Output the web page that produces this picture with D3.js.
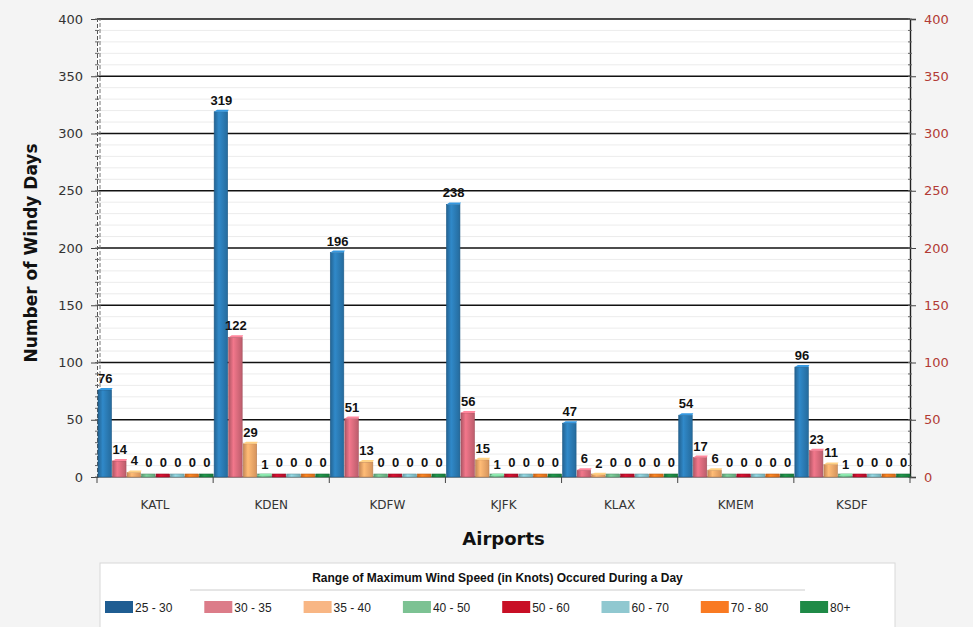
<!DOCTYPE html>
<html>
<head>
<meta charset="utf-8">
<script src="https://cdn.jsdelivr.net/npm/d3@7"></script>
<style>
  body { margin: 0; background: #f4f4f4; }
  svg { display: block; }
</style>
</head>
<body>
<div id="chart"></div>
<script>
const airports = ["KATL", "KDEN", "KDFW", "KJFK", "KLAX", "KMEM", "KSDF"];
const ranges = ["25 - 30", "30 - 35", "35 - 40", "40 - 50", "50 - 60", "60 - 70", "70 - 80", "80+"];
const colors = ["#2b7bb5", "#d96b7d", "#f6a96a", "#72be8e", "#c8102e", "#86c6d0", "#f57a1f", "#1d8a45"];
const legendColors = ["#1f5d92", "#dc7c89", "#f8b684", "#7cc293", "#c80f25", "#90c8d0", "#f97a22", "#1f8a47"];
// counts per airport, one array per wind range
const r25 = [76, 319, 196, 238, 47, 54, 96];
const r30 = [14, 122, 51, 56, 6, 17, 23];
const r35 = [4, 29, 13, 15, 2, 6, 11];
const r40 = [0, 1, 0, 1, 0, 0, 1];
const r50 = [0, 0, 0, 0, 0, 0, 0];
const r60 = [0, 0, 0, 0, 0, 0, 0];
const r70 = [0, 0, 0, 0, 0, 0, 0];
const r80 = [0, 0, 0, 0, 0, 0, 0];
const series = [r25, r30, r35, r40, r50, r60, r70, r80];
const yTicks = [0, 50, 100, 150, 200, 250, 300, 350, 400];

const width = 973, height = 627;
const margin = { top: 19, right: 63, bottom: 150, left: 97 };

const svg = d3.select("#chart").append("svg")
  .attr("width", width).attr("height", height);

svg.append("rect").attr("width", width).attr("height", height).attr("fill", "#f4f4f4");

const x = d3.scaleBand().domain(airports)
  .range([margin.left, width - margin.right]).padding(0);
const inner = d3.scaleBand().domain(d3.range(ranges.length))
  .range([0, x.bandwidth()]).padding(0);
const y = d3.scaleLinear().domain([0, 400])
  .range([height - margin.bottom, margin.top]);

// gradients for a rounded look
const defs = svg.append("defs");
colors.forEach((c, i) => {
  const g = defs.append("linearGradient").attr("id", "g" + i)
    .attr("x1", 0).attr("x2", 1).attr("y1", 0).attr("y2", 0);
  g.append("stop").attr("offset", "0%").attr("stop-color", d3.color(c).darker(0.6));
  g.append("stop").attr("offset", "35%").attr("stop-color", d3.color(c).brighter(0.3));
  g.append("stop").attr("offset", "100%").attr("stop-color", d3.color(c).darker(0.4));
});

// plot background
svg.append("rect")
  .attr("x", margin.left).attr("y", margin.top)
  .attr("width", x.range()[1] - margin.left)
  .attr("height", y(0) - margin.top)
  .attr("fill", "white");

// minor grid
svg.append("g").selectAll("line")
  .data(d3.range(0, 401, 10).filter(v => v % 50 !== 0))
  .join("line")
  .attr("x1", margin.left).attr("x2", x.range()[1])
  .attr("y1", d => y(d)).attr("y2", d => y(d))
  .attr("stroke", "#ececec");

// major grid
svg.append("g").selectAll("line")
  .data(yTicks.slice(1))
  .join("line")
  .attr("x1", margin.left).attr("x2", x.range()[1])
  .attr("y1", d => y(d)).attr("y2", d => y(d))
  .attr("stroke", "#111").attr("stroke-width", 1.6);

// left axis
const left = svg.append("g").attr("transform", `translate(${margin.left},0)`)
  .call(d3.axisLeft(y).tickValues(yTicks).tickSize(6).tickPadding(8));
left.select(".domain").attr("stroke", "#555").attr("stroke-dasharray", "4,2");
left.selectAll("text").attr("font-family", "DejaVu Sans, sans-serif")
  .attr("font-size", 13).attr("fill", "#333");
left.selectAll(".tick line").attr("stroke", "#444");
left.append("line")
  .attr("x1", 3).attr("x2", 3).attr("y1", y(0)).attr("y2", y(400))
  .attr("stroke", "#777").attr("stroke-dasharray", "4,2");

// right axis
const right = svg.append("g").attr("transform", `translate(${x.range()[1]},0)`)
  .call(d3.axisRight(y).tickValues(yTicks).tickSize(6).tickPadding(8));
right.select(".domain").attr("stroke", "#222").attr("stroke-width", 1.4);
right.selectAll("text").attr("font-family", "DejaVu Sans, sans-serif")
  .attr("font-size", 13).attr("fill", "#b23b35");
right.selectAll(".tick line").attr("stroke", "#444");

// minor ticks on both axes
[margin.left, x.range()[1]].forEach(ax => {
  svg.append("g").selectAll("line")
    .data(d3.range(0, 401, 10))
    .join("line")
    .attr("x1", ax - 2).attr("x2", ax + 2)
    .attr("y1", d => y(d)).attr("y2", d => y(d))
    .attr("stroke", "#666");
});

// bottom axis
const bottom = svg.append("g").attr("transform", `translate(0,${y(0)})`);
bottom.append("line")
  .attr("x1", margin.left).attr("x2", x.range()[1])
  .attr("stroke", "#333").attr("stroke-width", 1.2);
bottom.selectAll(".bt").data(airports.concat("end")).join("line")
  .attr("x1", (d, i) => i < airports.length ? x(d) : x.range()[1])
  .attr("x2", (d, i) => i < airports.length ? x(d) : x.range()[1])
  .attr("y1", 0).attr("y2", 6).attr("stroke", "#444");
bottom.selectAll("text").data(airports).join("text")
  .attr("x", d => x(d) + x.bandwidth() / 2)
  .attr("y", 32)
  .attr("text-anchor", "middle")
  .attr("font-family", "DejaVu Sans, sans-serif")
  .attr("font-size", 12).attr("fill", "#333")
  .text(d => d);

// bars
const cells = [];
airports.forEach((a, ai) => {
  series.forEach((s, si) => cells.push({ airport: a, si, value: s[ai] }));
});

const bars = svg.append("g").selectAll("g").data(cells).join("g")
  .attr("transform", d => `translate(${x(d.airport) + inner(d.si)},0)`);

const bw = inner.bandwidth();
bars.append("rect")
  .attr("x", 1).attr("width", bw - 1)
  .attr("y", d => Math.min(y(d.value), y(0) - 3))
  .attr("height", d => Math.max(y(0) - y(d.value), 3))
  .attr("fill", d => `url(#g${d.si})`)
  .attr("stroke", d => d3.color(colors[d.si]).darker(0.8))
  .attr("stroke-width", 0.6);

bars.filter(d => d.value > 0).append("path")
  .attr("d", d => {
    const t = y(d.value);
    return `M1,${t} L4,${t - 2} L${bw + 1},${t - 2} L${bw},${t} Z`;
  })
  .attr("fill", d => d3.color(colors[d.si]).brighter(0.6));

bars.append("text")
  .attr("x", bw / 2 + 1)
  .attr("y", d => y(d.value) - (d.value > 0 ? 7 : 10))
  .attr("text-anchor", "middle")
  .attr("font-family", "Liberation Sans, Arial, sans-serif")
  .attr("font-weight", "bold")
  .attr("font-size", 13).attr("fill", "#111")
  .text(d => d.value);

// axis titles
svg.append("text")
  .attr("transform", `translate(37,${(y(0) + y(400)) / 2 + 5}) rotate(-90)`)
  .attr("text-anchor", "middle")
  .attr("font-family", "DejaVu Sans, sans-serif")
  .attr("font-weight", "bold").attr("font-size", 17).attr("fill", "#111")
  .text("Number of Windy Days");

svg.append("text")
  .attr("x", (margin.left + x.range()[1]) / 2).attr("y", 545)
  .attr("text-anchor", "middle")
  .attr("font-family", "DejaVu Sans, sans-serif")
  .attr("font-weight", "bold").attr("font-size", 18).attr("fill", "#111")
  .text("Airports");

// legend
const legend = svg.append("g").attr("transform", "translate(100,563)");
legend.append("rect")
  .attr("width", 795).attr("height", 70)
  .attr("fill", "white").attr("stroke", "#d8d8d8");
legend.append("text")
  .attr("x", 795 / 2).attr("y", 19)
  .attr("text-anchor", "middle")
  .attr("font-family", "Liberation Sans, Arial, sans-serif")
  .attr("font-weight", "bold").attr("font-size", 12).attr("fill", "#111")
  .text("Range of Maximum Wind Speed (in Knots) Occured During a Day");
legend.append("line")
  .attr("x1", 90).attr("x2", 705).attr("y1", 27).attr("y2", 27)
  .attr("stroke", "#ccc");

const item = legend.selectAll(".item").data(ranges).join("g")
  .attr("transform", (d, i) => `translate(${5 + i * 99.3},38)`);
item.append("rect")
  .attr("width", 28).attr("height", 12)
  .attr("fill", (d, i) => legendColors[i]);
item.append("text")
  .attr("x", 30).attr("y", 10.5)
  .attr("font-family", "Liberation Sans, Arial, sans-serif")
  .attr("font-size", 12).attr("fill", "#222")
  .text(d => d);
</script>
</body>
</html>
